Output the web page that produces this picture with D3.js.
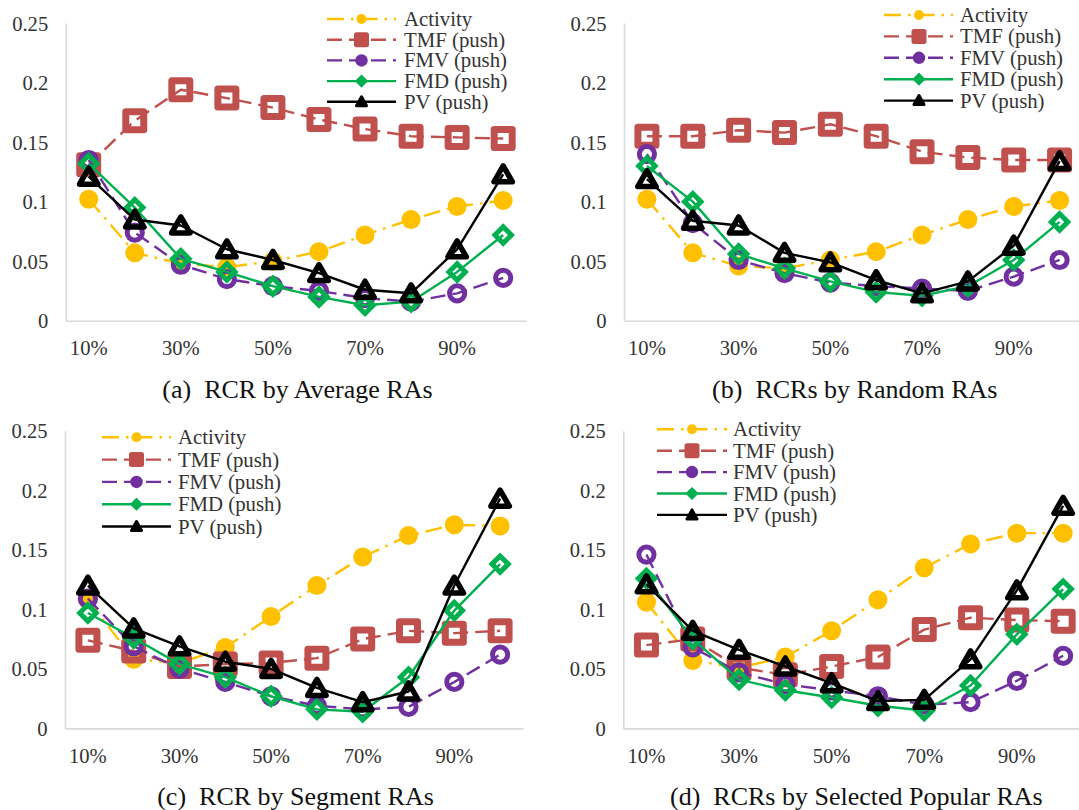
<!DOCTYPE html>
<html><head><meta charset="utf-8">
<script src="https://cdn.jsdelivr.net/npm/d3@7"></script>
<style>
html,body{margin:0;padding:0;background:#fff;}
</style>
</head><body>
<svg id="chart" width="1079" height="810"></svg>
<script>
// ---- data ----
const categories = ["10%","20%","30%","40%","50%","60%","70%","80%","90%","100%"];
const xTickLabels = ["10%","30%","50%","70%","90%"];
const yTicks = [0, 0.05, 0.1, 0.15, 0.2, 0.25];
const seriesNames = ["Activity","TMF (push)","FMV (push)","FMD (push)","PV (push)"];
const captions = ["(a)  RCR by Average RAs","(b)  RCRs by Random RAs","(c)  RCR by Segment RAs","(d)  RCRs by Selected Popular RAs"];

// panel (a)
const activityA = [0.102, 0.057, 0.048, 0.045, 0.050, 0.058, 0.072, 0.085, 0.096, 0.101];
const tmfA      = [0.131, 0.168, 0.194, 0.187, 0.179, 0.169, 0.161, 0.155, 0.154, 0.153];
const fmvA      = [0.135, 0.074, 0.047, 0.035, 0.029, 0.025, 0.019, 0.016, 0.023, 0.036];
const fmdA      = [0.132, 0.095, 0.052, 0.041, 0.029, 0.020, 0.013, 0.016, 0.041, 0.072];
const pvA       = [0.121, 0.085, 0.080, 0.060, 0.051, 0.040, 0.026, 0.023, 0.060, 0.123];
// panel (b)
const activityB = [0.102, 0.057, 0.046, 0.044, 0.051, 0.058, 0.072, 0.085, 0.096, 0.101];
const tmfB      = [0.155, 0.155, 0.160, 0.158, 0.165, 0.155, 0.142, 0.137, 0.135, 0.135];
const fmvB      = [0.140, 0.082, 0.051, 0.040, 0.032, 0.029, 0.027, 0.025, 0.037, 0.051];
const fmdB      = [0.130, 0.100, 0.056, 0.044, 0.033, 0.024, 0.021, 0.029, 0.051, 0.083];
const pvB       = [0.119, 0.084, 0.080, 0.057, 0.049, 0.034, 0.023, 0.033, 0.063, 0.134];
// panel (c)
const activityC = [0.108, 0.058, 0.055, 0.068, 0.094, 0.120, 0.144, 0.162, 0.171, 0.170];
const tmfC      = [0.074, 0.065, 0.052, 0.054, 0.055, 0.059, 0.075, 0.082, 0.080, 0.082];
const fmvC      = [0.109, 0.069, 0.050, 0.039, 0.027, 0.019, 0.016, 0.018, 0.039, 0.062];
const fmdC      = [0.097, 0.076, 0.054, 0.043, 0.027, 0.016, 0.014, 0.043, 0.099, 0.138];
const pvC       = [0.120, 0.084, 0.069, 0.056, 0.050, 0.034, 0.022, 0.031, 0.120, 0.193];
// panel (d)
const activityD = [0.106, 0.057, 0.051, 0.060, 0.082, 0.108, 0.135, 0.155, 0.164, 0.164];
const tmfD      = [0.070, 0.075, 0.051, 0.045, 0.052, 0.060, 0.083, 0.093, 0.091, 0.090];
const fmvD      = [0.146, 0.068, 0.047, 0.037, 0.032, 0.027, 0.020, 0.022, 0.040, 0.061];
const fmdD      = [0.126, 0.075, 0.041, 0.032, 0.026, 0.019, 0.015, 0.036, 0.079, 0.117];
const pvD       = [0.121, 0.082, 0.066, 0.052, 0.038, 0.023, 0.024, 0.058, 0.116, 0.187];

// ---- styles ----
const FONT = "'Liberation Serif'";
const styles = [
  {color:"#FFC000", dash:"17,7,2.5,7", marker:"dot"},
  {color:"#C0504D", dash:"15,7", marker:"square"},
  {color:"#7030A0", dash:"15,7", marker:"circle"},
  {color:"#00B050", dash:null, marker:"diamond"},
  {color:"#000000", dash:null, marker:"triangle"}
];

const panels = [
  {data:[activityA,tmfA,fmvA,fmdA,pvA], x0:65.7, y0:320.7, w:460.5,
   leg:{l1:327, l2:396, m:361.5, t:404, y:19, dy:20.7}},
  {data:[activityB,tmfB,fmvB,fmdB,pvB], x0:624, y0:320.7, w:458.5,
   leg:{l1:884, l2:953, m:919, t:960, y:15, dy:21.4}},
  {data:[activityC,tmfC,fmvC,fmdC,pvC], x0:65, y0:728.4, w:458,
   leg:{l1:102, l2:171, m:136.5, t:178, y:437.3, dy:22.3}},
  {data:[activityD,tmfD,fmvD,fmdD,pvD], x0:623.3, y0:728.4, w:463,
   leg:{l1:657, l2:727, m:692, t:733, y:429.3, dy:21.4}}
];

const svg = d3.select("#chart");
svg.append("rect").attr("width",1079).attr("height",810).attr("fill","#fff");

function drawMarker(g, type, color, big) {
  if (type === "dot") {
    g.append("circle").attr("r", big ? 9.5 : 5).attr("fill", color);
  } else if (type === "square") {
    const s = big ? 18 : 10;
    g.append("rect").attr("x",-s/2).attr("y",-s/2).attr("width",s).attr("height",s)
      .attr("fill", big ? "none" : color).attr("stroke",color)
      .attr("stroke-width", big ? 7 : 5).attr("stroke-linejoin","round");
  } else if (type === "circle") {
    g.append("circle").attr("r", big ? 7.6 : 4.5).attr("fill", big ? "none" : color)
      .attr("stroke",color).attr("stroke-width", big ? 5 : 3.5);
  } else if (type === "diamond") {
    const h = big ? 8.2 : 4.5;
    g.append("path").attr("d",`M0,${-h}L${h},0L0,${h}L${-h},0Z`)
      .attr("fill", big ? "none" : color).attr("stroke",color)
      .attr("stroke-width", big ? 5 : 3).attr("stroke-linejoin","miter");
  } else if (type === "triangle") {
    const h = big ? 8 : 4.5, b = big ? 9.2 : 5;
    g.append("path").attr("d",`M0,${-h - 0.5}L${b},${h - 0.5}L${-b},${h - 0.5}Z`)
      .attr("fill", big ? "none" : color).attr("stroke",color)
      .attr("stroke-width", big ? 5.5 : 3).attr("stroke-linejoin","round");
  }
}

function styleText(sel, size) {
  sel.style("font-family", FONT).style("font-size", size);
}

panels.forEach((p, pi) => {
  const top = p.y0 - 297.6;
  const x = d3.scaleBand().domain(categories).range([p.x0, p.x0 + p.w]).padding(0);
  const y = d3.scaleLinear().domain([0, 0.25]).range([p.y0, top]);
  const cx = c => x(c) + x.bandwidth()/2;
  const g = svg.append("g");

  // y axis
  const ya = g.append("g").attr("transform",`translate(${p.x0},0)`)
    .call(d3.axisLeft(y).tickValues(yTicks).tickSize(0).tickSizeOuter(0).tickPadding(17.5)
      .tickFormat(d => d === 0 ? "0" : String(d)));
  ya.attr("font-family", null).attr("font-size", null);
  ya.select(".domain").attr("stroke","#D9D9D9").attr("stroke-width",1.6);
  ya.selectAll("text").call(styleText, "20.6px").attr("fill","#333").attr("dy","0.34em");

  // x axis
  const xa = g.append("g").attr("transform",`translate(0,${p.y0})`)
    .call(d3.axisBottom(x).tickValues(xTickLabels).tickSize(0).tickSizeOuter(0).tickPadding(19.8));
  xa.attr("font-family", null).attr("font-size", null);
  xa.select(".domain").attr("stroke","#D9D9D9").attr("stroke-width",1.6);
  xa.selectAll("text").call(styleText, "20.6px").attr("fill","#333");

  // series
  p.data.forEach((vals, si) => {
    const st = styles[si];
    const pts = categories.map((c, i) => [cx(c), y(vals[i])]);
    g.append("path").attr("d", d3.line()(pts)).attr("fill","none")
      .attr("stroke", st.color).attr("stroke-width", 2.4)
      .attr("stroke-dasharray", st.dash).attr("stroke-linejoin","round");
    pts.forEach(pt => {
      const mg = g.append("g").attr("transform",`translate(${pt[0]},${pt[1]})`);
      drawMarker(mg, st.marker, st.color, true);
    });
  });

  // legend
  seriesNames.forEach((name, si) => {
    const st = styles[si];
    const ly = p.leg.y + si * p.leg.dy;
    g.append("line").attr("x1",p.leg.l1).attr("x2",p.leg.l2).attr("y1",ly).attr("y2",ly)
      .attr("stroke",st.color).attr("stroke-width",2.4).attr("stroke-dasharray",st.dash);
    const mg = g.append("g").attr("transform",`translate(${p.leg.m},${ly})`);
    drawMarker(mg, st.marker, st.color, false);
    g.append("text").attr("x",p.leg.t).attr("y",ly).attr("dy","0.34em")
      .call(styleText, "20.8px").attr("fill","#333").text(name);
  });

  // caption
  g.append("text").attr("x", p.x0 + p.w/2 + 1.5).attr("y", p.y0 + 77)
    .attr("text-anchor","middle").call(styleText, "26px").attr("fill","#111")
    .style("white-space","pre").text(captions[pi]);
});
</script>
</body></html>
